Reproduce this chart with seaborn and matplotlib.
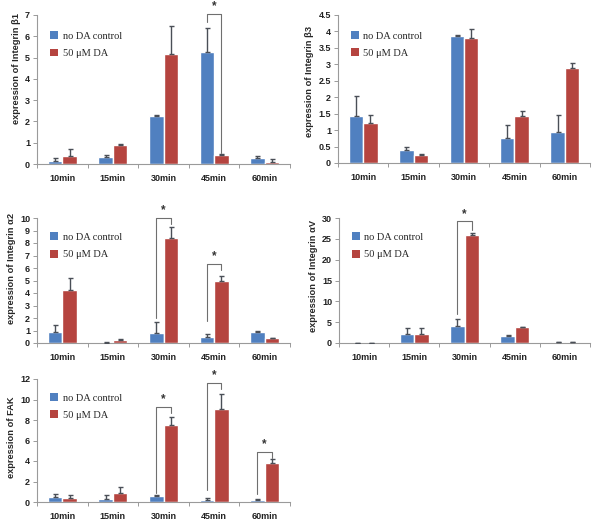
import matplotlib
matplotlib.use("Agg")
import matplotlib.pyplot as plt
import seaborn as sns
import pandas as pd
import numpy as np
from matplotlib.patches import Patch
from matplotlib.container import BarContainer

sns.set_theme(style="white")
plt.rcParams['font.family'] = ['Liberation Sans', 'DejaVu Sans']

times = ["10min", "15min", "30min", "45min", "60min"]
conds = ["no DA control", "50 \u03bcM DA"]
colors = ["#5080C0", "#B5443F"]

# Integrin beta1
b1_ctrl = [0.15, 0.33, 2.25, 5.25, 0.30]
b1_ctrl_err = [0.13, 0.10, 0.04, 1.15, 0.08]
b1_da = [0.38, 0.88, 5.15, 0.42, 0.10]
b1_da_err = [0.32, 0.04, 1.35, 0.06, 0.15]

# Integrin beta3
b3_ctrl = [1.43, 0.40, 3.85, 0.75, 0.93]
b3_ctrl_err = [0.61, 0.08, 0.05, 0.40, 0.52]
b3_da = [1.22, 0.25, 3.80, 1.43, 2.90]
b3_da_err = [0.23, 0.03, 0.27, 0.14, 0.13]

# Integrin alpha2
a2_ctrl = [0.90, 0.03, 0.80, 0.45, 0.90]
a2_ctrl_err = [0.52, 0.07, 0.85, 0.27, 0.07]
a2_da = [4.25, 0.25, 8.40, 4.95, 0.40]
a2_da_err = [0.95, 0.10, 0.90, 0.45, 0.0]

# Integrin alphaV
av_ctrl = [0.05, 2.10, 4.00, 1.70, 0.15]
av_ctrl_err = [0.0, 1.50, 1.80, 0.30, 0.15]
av_da = [0.0, 2.20, 25.9, 3.80, 0.15]
av_da_err = [0.0, 1.40, 0.40, 0.15, 0.15]

# FAK
fak_ctrl = [0.45, 0.30, 0.60, 0.20, 0.15]
fak_ctrl_err = [0.35, 0.35, 0.05, 0.20, 0.13]
fak_da = [0.42, 0.85, 7.55, 9.05, 3.80]
fak_da_err = [0.28, 0.60, 0.70, 1.50, 0.40]

# significance brackets: (time index, bracket top, left end, right end)
b1_sig = [(3, 7.05, 6.65, 0.50)]
a2_sig = [(2, 10.0, 2.0, 9.5), (3, 6.35, 1.75, 5.85)]
av_sig = [(2, 29.2, 7.0, 27.2)]
fak_sig = [(2, 9.3, 0.9, 8.7), (3, 11.6, 1.2, 11.0), (4, 4.9, 0.8, 4.3)]

panels = [
    dict(ctrl=b1_ctrl, ce=b1_ctrl_err, da=b1_da, de=b1_da_err, sig=b1_sig,
         ylim=7, ticks=[0, 1, 2, 3, 4, 5, 6, 7], labels=None, ly=0.64,
         ylabel="expression of Integrin \u03b21", rect=(37, 15, 290, 164)),
    dict(ctrl=b3_ctrl, ce=b3_ctrl_err, da=b3_da, de=b3_da_err, sig=[],
         ylim=4.5, ticks=[0, 0.5, 1, 1.5, 2, 2.5, 3, 3.5, 4, 4.5], ly=0.55,
         labels=["0", "0.5", "1", "1.5", "2", "2.5", "3", "3.5", "4", "4.5"],
         ylabel="expression of Integrin \u03b23", rect=(338, 15, 590, 163)),
    dict(ctrl=a2_ctrl, ce=a2_ctrl_err, da=a2_da, de=a2_da_err, sig=a2_sig,
         ylim=10, ticks=list(range(0, 11)), labels=None, ly=0.6,
         ylabel="expression of Integrin \u03b12", rect=(37, 218, 290, 343)),
    dict(ctrl=av_ctrl, ce=av_ctrl_err, da=av_da, de=av_da_err, sig=av_sig,
         ylim=30, ticks=[0, 5, 10, 15, 20, 25, 30], labels=None, ly=0.54,
         ylabel="expression of Integrin \u03b1V", rect=(339, 218, 590, 343)),
    dict(ctrl=fak_ctrl, ce=fak_ctrl_err, da=fak_da, de=fak_da_err, sig=fak_sig,
         ylim=12, ticks=[0, 2, 4, 6, 8, 10, 12], labels=None, ly=0.53,
         ylabel="expression of FAK", rect=(37, 379, 290, 502)),
]

W, H = 600, 522
fig = plt.figure(figsize=(W / 100, H / 100), dpi=100)

for p in panels:
    l, t, r, b = p["rect"]
    ax = fig.add_axes([l / W, 1 - b / H, (r - l) / W, (b - t) / H])
    df = pd.DataFrame({
        "time": times * 2,
        "cond": [conds[0]] * 5 + [conds[1]] * 5,
        "value": p["ctrl"] + p["da"],
    })
    sns.barplot(data=df, x="time", y="value", hue="cond", order=times,
                hue_order=conds, palette=colors, width=0.57, errorbar=None,
                saturation=1, ax=ax, legend=False, zorder=2)
    errs = [p["ce"], p["de"]]
    vals = [p["ctrl"], p["da"]]
    bar_conts = [c for c in ax.containers if isinstance(c, BarContainer)]
    centers = []
    for cont in bar_conts:
        xs = [bar.get_x() + bar.get_width() / 2 for bar in cont.patches]
        centers.append(xs)
    for k in range(2):
        e = np.array(errs[k])
        ax.errorbar(centers[k], vals[k], yerr=[np.zeros_like(e), e], fmt="none",
                    ecolor="#4a4f57", elinewidth=1.0, capsize=1.8,
                    capthick=1.0, zorder=3)
    for (i, top, yl, yr) in p["sig"]:
        xl, xr = centers[0][i], centers[1][i]
        ax.plot([xl, xl, xr, xr], [yl, top, top, yr], color="#6f6f6f",
                lw=0.8, zorder=4, clip_on=False)
        ax.text((xl + xr) / 2, top + p["ylim"] * 0.012, "*", ha="center",
                va="bottom", fontsize=8.5, fontweight="bold", color="#333333")
    ax.set_ylim(0, p["ylim"])
    ax.set_xlim(-0.5, 4.5)
    ax.set_yticks(p["ticks"])
    if p["labels"]:
        ax.set_yticklabels(p["labels"])
    ax.set_xticks(np.arange(-0.5, 5.0, 1.0), minor=True)
    ax.set_xlabel("")
    ax.set_ylabel(p["ylabel"], fontsize=6.7, fontweight="bold", labelpad=3,
                  y=p["ly"])
    for s in ["top", "right"]:
        ax.spines[s].set_visible(False)
    for s in ["left", "bottom"]:
        ax.spines[s].set_color("#9a9a9a")
        ax.spines[s].set_linewidth(0.8)
    ax.tick_params(axis="y", which="major", left=True, length=3, width=0.7,
                   color="#9a9a9a", labelsize=6.5, pad=2)
    ax.tick_params(axis="x", which="major", bottom=False, length=0,
                   labelsize=6.5, pad=7)
    ax.tick_params(axis="x", which="minor", bottom=True, length=3, width=0.7,
                   direction="out", color="#9a9a9a")
    for lab in ax.get_xticklabels() + ax.get_yticklabels():
        lab.set_fontweight("bold")
        lab.set_color("#222222")
    handles = [Patch(facecolor=c, edgecolor="none") for c in colors]
    ax.legend(handles, conds, loc="upper left", bbox_to_anchor=(0.035, 0.92),
              frameon=False, prop={"family": "Liberation Serif", "size": 7.5},
              handlelength=0.8, handleheight=0.8, handletextpad=0.4,
              labelspacing=0.75, borderaxespad=0)

fig.savefig("out.png", dpi=100)
